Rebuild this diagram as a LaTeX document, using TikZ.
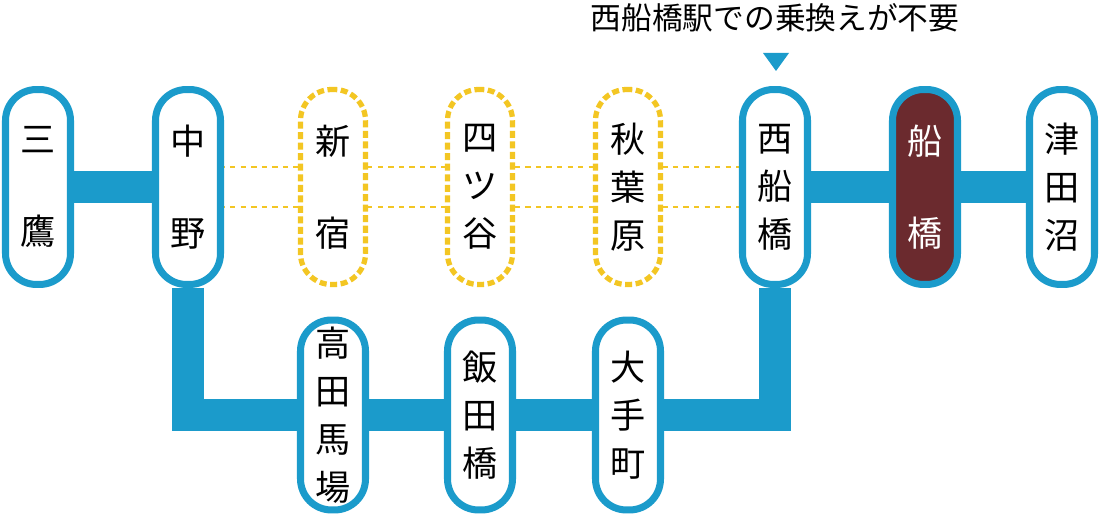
\documentclass[tikz,border=0pt]{standalone}
\usepackage{fontspec}
\setmainfont{Noto Sans CJK JP}
\usetikzlibrary{backgrounds}
\definecolor{lineblue}{HTML}{1B9BCB}
\definecolor{lineyellow}{HTML}{F3C623}
\definecolor{stationred}{HTML}{6B2A2E}
\tikzset{
  station/.style={draw=lineblue, line width=4pt, fill=white, rounded corners=0.62cm,
    minimum width=1.3cm, minimum height=3.9cm, align=center, inner sep=0pt,
    font=\fontsize{20}{26}\selectfont},
  skipped/.style={station, draw=lineyellow, dotted, line width=3pt},
  current/.style={station, fill=stationred, text=white},
  lowstation/.style={station, minimum height=3.8cm},
  track/.style={lineblue, line width=18pt},
  skiptrack/.style={lineyellow, dashed, line width=1.2pt}
}
\newcommand{\two}[2]{#1\\[0.92cm]#2}
\newcommand{\three}[3]{#1\\[0.05cm]#2\\[0.05cm]#3}
\begin{document}
\begin{tikzpicture}[x=0.02cm,y=-0.02cm]
  \useasboundingbox (0,0) rectangle (1100,520);

  \node[station]  (mitaka)   at (38,187)   {\two{三}{鷹}};
  \node[station]  (nakano)   at (188,187)  {\two{中}{野}};
  \node[skipped]  (shinjuku) at (333,187)  {\two{新}{宿}};
  \node[skipped]  (yotsuya)  at (480,187)  {\three{四}{ツ}{谷}};
  \node[skipped]  (akihabara) at (628,187) {\three{秋}{葉}{原}};
  \node[station]  (nishifunabashi) at (775,187) {\three{西}{船}{橋}};
  \node[current]  (funabashi) at (925,187) {\two{船}{橋}};
  \node[station]  (tsudanuma) at (1062,187) {\three{津}{田}{沼}};

  \node[lowstation] (takadanobaba) at (333,415) {高\\[0.05cm]田\\[0.05cm]馬\\[0.05cm]場};
  \node[lowstation] (iidabashi)    at (480,415) {\three{飯}{田}{橋}};
  \node[lowstation] (otemachi)     at (628,415) {\three{大}{手}{町}};

  % note above the transfer station
  \node (note) at (775,18) {\fontsize{17.5}{20}\selectfont 西船橋駅での乗換えが不要};
  \fill[lineblue] (763,53) -- (789,53) -- (776,71) -- cycle;

  \begin{scope}[on background layer]
    \draw[track] (mitaka) -- (nakano);
    \draw[track] (nishifunabashi) -- (funabashi) -- (tsudanuma);
    \draw[track] (nakano) -- (nakano |- takadanobaba) -- (nishifunabashi |- takadanobaba)
      -- (nishifunabashi);
    \draw[skiptrack] ([yshift=0.4cm]nakano.center) -- ([yshift=0.4cm]nishifunabashi.center);
    \draw[skiptrack] ([yshift=-0.4cm]nakano.center) -- ([yshift=-0.4cm]nishifunabashi.center);
  \end{scope}
\end{tikzpicture}
\end{document}
